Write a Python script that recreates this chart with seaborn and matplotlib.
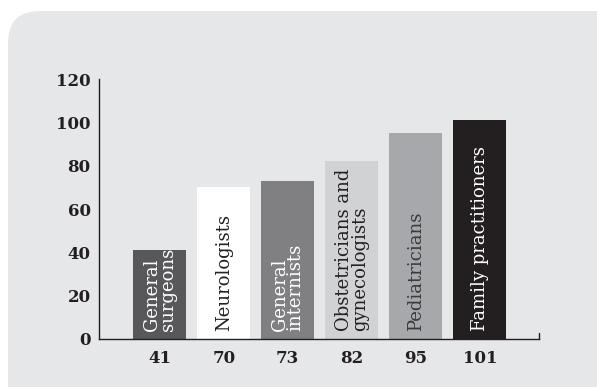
import matplotlib
matplotlib.use("Agg")
import matplotlib.pyplot as plt
from matplotlib.patches import FancyBboxPatch
import pandas as pd
import seaborn as sns

# Physicians by specialty
specialties = ["General\nsurgeons", "Neurologists", "General\ninternists",
               "Obstetricians and\ngynecologists", "Pediatricians",
               "Family practitioners"]
values = [41, 70, 73, 82, 95, 101]
bar_colors = ["#58585a", "#ffffff", "#808083", "#d1d2d4", "#a7a8ab", "#231f20"]
label_colors = ["#ffffff", "#231f20", "#ffffff", "#231f20", "#3a3a3a", "#ffffff"]
y_ticks = [0, 20, 40, 60, 80, 100, 120]

df = pd.DataFrame({"specialty": specialties, "value": values})

sns.set_theme(style="white")
plt.rcParams["font.family"] = ["DejaVu Serif"]

ink = "#231f20"
W, H = 597, 387
fig = plt.figure(figsize=(W / 100, H / 100), dpi=100)
fig.patch.set_facecolor("white")

# rounded grey panel behind the chart, laid out in pixel units
bg = fig.add_axes([0, 0, 1, 1], zorder=-1)
bg.set_xlim(0, W)
bg.set_ylim(H, 0)
bg.axis("off")
bg.add_patch(FancyBboxPatch((8, 11), 640, 420,
                            boxstyle="round,pad=0,rounding_size=32",
                            facecolor="#e6e7e9", edgecolor="none"))

ax = fig.add_axes([99 / W, 1 - 338.7 / H, (539.3 - 99) / W, (338.7 - 79.3) / H])
ax.set_facecolor("none")

sns.barplot(data=df, x="specialty", y="value", hue="specialty",
            palette=bar_colors, legend=False, width=0.83, saturation=1,
            linewidth=0, ax=ax)

ax.set_xlim(-0.948, 5.93)
ax.set_ylim(0, 120)
ax.set_yticks(y_ticks)
ax.set_yticklabels([str(t) for t in y_ticks], fontweight="bold", fontsize=12, color=ink)
ax.set_xticks(range(len(values)))
ax.set_xticklabels([str(v) for v in values], fontweight="bold", fontsize=12, color=ink)
ax.tick_params(axis="y", direction="in", length=8, width=1, color=ink, pad=6)
ax.tick_params(axis="x", length=0, pad=8)
ax.set_xlabel("")
ax.set_ylabel("")

for side in ["top", "right"]:
    ax.spines[side].set_visible(False)
for side in ["left", "bottom"]:
    ax.spines[side].set_color(ink)
    ax.spines[side].set_linewidth(1)

# small upturned end of the baseline
ax.plot([5.93, 5.93], [0, 2.5], color=ink, lw=1, clip_on=False)

# specialty names written up the bars
for i, (name, col) in enumerate(zip(specialties, label_colors)):
    ax.text(i, 3.6, name, rotation=90, ha="center", va="bottom",
            multialignment="left", color=col, fontsize=13, linespacing=0.85)

fig.savefig("out.png", dpi=100, facecolor="white")
